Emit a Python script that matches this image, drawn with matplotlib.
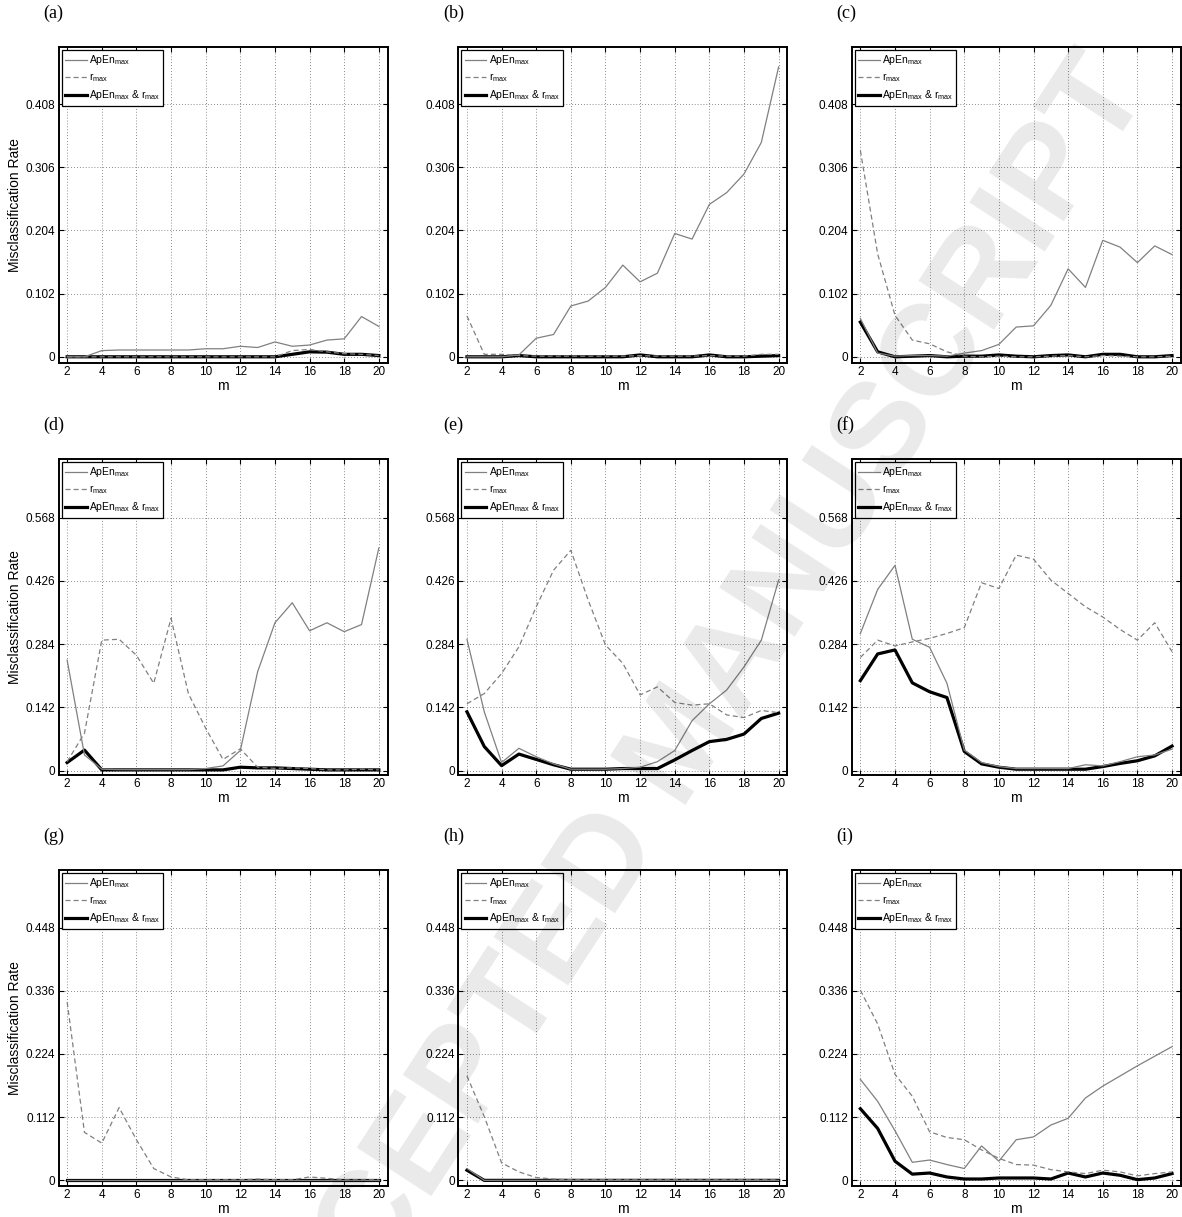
import matplotlib
matplotlib.use('Agg')
import matplotlib.pyplot as plt

# m (embedding dimension) on the x axis
m = [2, 3, 4, 5, 6, 7, 8, 9, 10, 11, 12, 13, 14, 15, 16, 17, 18, 19, 20]

# (a)
apen_a = [0, 0, 0.010, 0.011, 0.011, 0.011, 0.011, 0.011, 0.013, 0.013, 0.017, 0.015, 0.024, 0.017, 0.019, 0.027, 0.029, 0.065, 0.049]
rmax_a = [0, 0, 0, 0, 0, 0, 0, 0, 0, 0, 0, 0, 0, 0.010, 0.012, 0.008, 0.005, 0.004, 0.002]
both_a = [0, 0, 0, 0, 0, 0, 0, 0, 0, 0, 0, 0, 0, 0.004, 0.008, 0.0075, 0.004, 0.004, 0.002]
# (b)
apen_b = [0, 0, 0, 0.003, 0.030, 0.036, 0.082, 0.090, 0.112, 0.148, 0.121, 0.135, 0.199, 0.190, 0.246, 0.265, 0.295, 0.346, 0.468]
rmax_b = [0.066, 0.004, 0.004, 0.002, 0.001, 0.001, 0.001, 0.001, 0.001, 0.001, 0.002, 0.001, 0.001, 0.001, 0.002, 0.001, 0.001, 0.004, 0.004]
both_b = [0, 0, 0, 0.002, 0, 0, 0, 0, 0, 0, 0.003, 0, 0, 0, 0.003, 0, 0, 0.001, 0.002]
# (c)
apen_c = [0.062, 0.006, 0.001, 0.002, 0.002, 0.001, 0.006, 0.010, 0.020, 0.048, 0.050, 0.083, 0.142, 0.112, 0.188, 0.177, 0.152, 0.179, 0.165]
rmax_c = [0.333, 0.166, 0.067, 0.027, 0.021, 0.008, 0.001, 0, 0.001, 0, 0, 0.001, 0.002, 0, 0.002, 0.001, 0, 0, 0.001]
both_c = [0.056, 0.008, 0, 0.001, 0.002, 0, 0.001, 0.001, 0.003, 0.001, 0, 0.002, 0.003, 0, 0.004, 0.004, 0, 0, 0.002]
# (d)
apen_d = [0.248, 0.035, 0.003, 0.002, 0.002, 0.002, 0.002, 0.002, 0.0045, 0.0105, 0.045, 0.222, 0.332, 0.377, 0.314, 0.332, 0.312, 0.328, 0.500]
rmax_d = [0.020, 0.084, 0.293, 0.295, 0.259, 0.196, 0.342, 0.173, 0.095, 0.025, 0.049, 0.0075, 0.005, 0.006, 0.0045, 0.0015, 0.0015, 0.003, 0.0015]
both_d = [0.018, 0.046, 0.0015, 0.0015, 0.0015, 0.0015, 0.0015, 0.0015, 0.0015, 0.0015, 0.0075, 0.006, 0.006, 0.0045, 0.003, 0.0015, 0.0015, 0.0015, 0.0015]
# (e)
apen_e = [0.295, 0.132, 0.018, 0.050, 0.031, 0.015, 0.003, 0.003, 0.003, 0.0045, 0.0075, 0.020, 0.045, 0.112, 0.150, 0.181, 0.233, 0.293, 0.428]
rmax_e = [0.150, 0.173, 0.218, 0.278, 0.368, 0.450, 0.495, 0.383, 0.282, 0.241, 0.170, 0.188, 0.153, 0.147, 0.150, 0.125, 0.119, 0.135, 0.130]
both_e = [0.132, 0.054, 0.011, 0.037, 0.025, 0.013, 0.003, 0.003, 0.003, 0.0045, 0.0045, 0.0045, 0.024, 0.045, 0.065, 0.070, 0.082, 0.117, 0.129]
# (f)
apen_f = [0.308, 0.407, 0.461, 0.295, 0.277, 0.196, 0.046, 0.018, 0.009, 0.0045, 0.0045, 0.0045, 0.0045, 0.013, 0.0105, 0.020, 0.031, 0.035, 0.048]
rmax_f = [0.254, 0.293, 0.280, 0.289, 0.297, 0.308, 0.321, 0.422, 0.409, 0.484, 0.475, 0.428, 0.398, 0.368, 0.345, 0.317, 0.293, 0.332, 0.267]
both_f = [0.202, 0.262, 0.271, 0.197, 0.177, 0.164, 0.043, 0.015, 0.0075, 0.003, 0.003, 0.003, 0.003, 0.003, 0.009, 0.016, 0.022, 0.033, 0.055]
# (g)
apen_g = [0, 0, 0, 0, 0, 0, 0, 0, 0, 0, 0, 0, 0, 0, 0, 0, 0, 0, 0]
rmax_g = [0.316, 0.085, 0.066, 0.129, 0.072, 0.021, 0.006, 0.001, 0.001, 0.001, 0.001, 0.0024, 0.001, 0.001, 0.006, 0.0036, 0.001, 0.001, 0.001]
both_g = [0, 0, 0, 0, 0, 0, 0, 0, 0, 0, 0, 0, 0, 0, 0, 0, 0, 0, 0]
# (h)
apen_h = [0.021, 0, 0, 0, 0, 0, 0, 0, 0, 0, 0, 0, 0, 0, 0, 0, 0, 0, 0]
rmax_h = [0.185, 0.113, 0.031, 0.015, 0.005, 0.0024, 0.001, 0.001, 0.001, 0.001, 0.001, 0.001, 0.001, 0.001, 0.001, 0.001, 0.001, 0.001, 0.001]
both_h = [0.018, 0, 0, 0, 0, 0, 0, 0, 0, 0, 0, 0, 0, 0, 0, 0, 0, 0, 0]
# (i)
apen_i = [0.179, 0.140, 0.088, 0.032, 0.036, 0.028, 0.021, 0.061, 0.034, 0.072, 0.077, 0.098, 0.110, 0.146, 0.167, 0.185, 0.203, 0.220, 0.237]
rmax_i = [0.337, 0.277, 0.188, 0.149, 0.086, 0.076, 0.072, 0.054, 0.039, 0.028, 0.027, 0.019, 0.015, 0.012, 0.018, 0.015, 0.008, 0.012, 0.015]
both_i = [0.127, 0.092, 0.034, 0.011, 0.013, 0.006, 0.0024, 0.0024, 0.0042, 0.0042, 0.0042, 0.0024, 0.013, 0.006, 0.013, 0.009, 0.0012, 0.0042, 0.012]

panel_names = ['(a)', '(b)', '(c)', '(d)', '(e)', '(f)', '(g)', '(h)', '(i)']
xticks = [2, 4, 6, 8, 10, 12, 14, 16, 18, 20]
yticks_rows = [
	[0, 0.102, 0.204, 0.306, 0.408],
	[0, 0.142, 0.284, 0.426, 0.568],
	[0, 0.112, 0.224, 0.336, 0.448],
]
ytick_labels_rows = [
	['0', '0.102', '0.204', '0.306', '0.408'],
	['0', '0.142', '0.284', '0.426', '0.568'],
	['0', '0.112', '0.224', '0.336', '0.448'],
]
ytop_rows = [0.5, 0.7, 0.55]
legend_labels = ['ApEn$_{max}$', 'r$_{max}$', 'ApEn$_{max}$ & r$_{max}$']

W, H = 1182, 1217
col_left = [58.5, 458.3, 851.7]
row_top = [47, 459, 870]
AX_W, AX_H = 329, 316


def plot_panel(fig, idx, apen, rmax, both):
	row, col = idx // 3, idx % 3
	left, top = col_left[col], row_top[row]
	ax = fig.add_axes([left / W, 1 - (top + AX_H) / H, AX_W / W, AX_H / H])

	# black line first, the grey ones are drawn over it
	l3, = ax.plot(m, both, color='black', lw=2.3, zorder=2)
	l1, = ax.plot(m, apen, color='0.5', lw=0.9, zorder=3)
	l2, = ax.plot(m, rmax, color='0.5', lw=0.9, dashes=(4, 2.5), zorder=3)

	ax.set_xlim(1.5, 20.5)
	ax.set_ylim(-0.01, ytop_rows[row])
	ax.set_xticks(xticks)
	ax.set_yticks(yticks_rows[row])
	ax.set_yticklabels(ytick_labels_rows[row])
	ax.tick_params(direction='in', top=True, right=True, length=3.5, width=0.8, labelsize=8.5)
	ax.tick_params(axis='x', pad=2)
	ax.tick_params(axis='y', pad=2.5)
	ax.grid(True, color='0.4', linewidth=0.6, linestyle=(0, (1, 2.5)))
	for sp in ax.spines.values():
		sp.set_linewidth(1.4)

	ax.set_xlabel('m', fontsize=10)
	ax.xaxis.set_label_coords(0.5, -0.05)
	if col == 0:
		ax.set_ylabel('Misclassification Rate', fontsize=10)
		ax.yaxis.set_label_coords(-0.11, 0.5)

	leg = ax.legend([l1, l2, l3], legend_labels, loc='upper left', fontsize=7.5,
		handlelength=2.1, handletextpad=0.2, borderpad=0.3, labelspacing=0.4,
		borderaxespad=0.3, fancybox=False, framealpha=1)
	leg.get_frame().set_edgecolor('black')
	leg.get_frame().set_linewidth(0.9)

	fig.text((left - 15) / W, 1 - (top - 34) / H, panel_names[idx],
		family='Liberation Serif', fontsize=13, ha='left', va='center')
	return ax


def main():
	plt.rcParams['font.family'] = 'Liberation Sans'
	plt.rcParams['mathtext.default'] = 'regular'
	fig = plt.figure(figsize=(W / 100, H / 100), dpi=100)

	series = [
		(apen_a, rmax_a, both_a), (apen_b, rmax_b, both_b), (apen_c, rmax_c, both_c),
		(apen_d, rmax_d, both_d), (apen_e, rmax_e, both_e), (apen_f, rmax_f, both_f),
		(apen_g, rmax_g, both_g), (apen_h, rmax_h, both_h), (apen_i, rmax_i, both_i),
	]
	for i, (a, r, b) in enumerate(series):
		plot_panel(fig, i, a, r, b)

	# watermark of the journal page
	fig.text(685 / W, 1 - 745 / H, 'ACCEPTED MANUSCRIPT', rotation=57, fontsize=93,
		fontweight='bold', color='black', alpha=0.085, ha='center', va='center',
		rotation_mode='anchor', zorder=20)

	fig.savefig('out.png', dpi=100)


if __name__ == '__main__':
	main()
